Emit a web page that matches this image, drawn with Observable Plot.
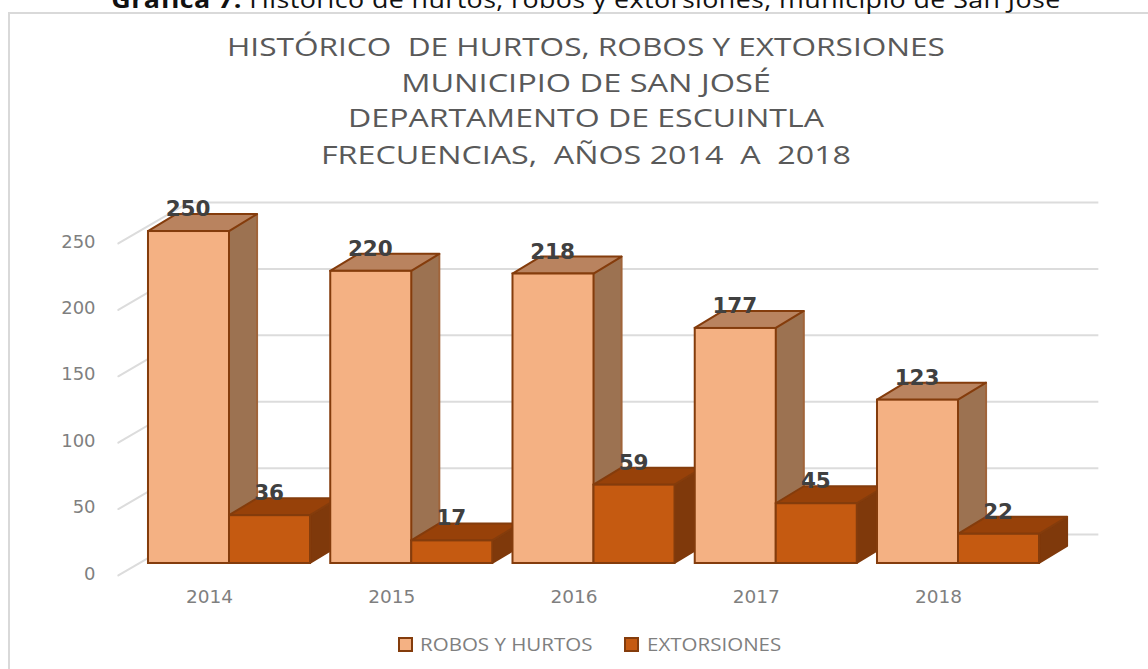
<!DOCTYPE html>
<html lang="es">
<head>
<meta charset="utf-8">
<script src="https://cdn.jsdelivr.net/npm/d3@7"></script>
<script src="https://cdn.jsdelivr.net/npm/@observablehq/plot@0.6"></script>
<style>
  html, body { margin: 0; padding: 0; background: #fff; overflow: hidden; }
  #page { position: relative; width: 1148px; height: 669px; overflow: hidden; }
  #frame { position: absolute; left: 8px; top: 12px; width: 1150px; height: 670px; border-left: 2px solid #d9d9d9; border-top: 2px solid #d9d9d9; box-sizing: border-box; }
  #header { position: relative; height: 190px; }
  #caption { position: absolute; left: 0; width: 1172px; top: -16px; text-align: center; font: 23px/30px "Open Sans", sans-serif; color: #111; white-space: pre; letter-spacing: .35px; transform: scaleX(1.166); transform-origin: 586px 0; }
  .tl { position: absolute; left: 0; width: 1172px; text-align: center; font: 26px/36px "Open Sans", sans-serif; color: #595959; white-space: pre; transform-origin: 586px 0; }
  #chart { position: relative; height: 435px; }
  #chart svg { background: transparent; display: block; }
  #legend { position: relative; height: 44px; font: 18px/20px "Open Sans", sans-serif; color: #7f7f7f; }
  #legend span { position: absolute; top: 9px; white-space: pre; transform: scaleX(1.14); transform-origin: 0 0; }
  #legend i { position: absolute; top: 12px; width: 11px; height: 11px; border: 2px solid #843c0c; }
</style>
</head>
<body>
<div id="page">
  <div id="frame"></div>
  <div id="header"></div>
  <div id="chart"></div>
  <div id="legend"></div>
</div>
<script>
const years = [2014, 2015, 2016, 2017, 2018];
const robosHurtos = [250, 220, 218, 177, 123];
const extorsiones = [36, 17, 59, 45, 22];
const yTicks = [0, 50, 100, 150, 200, 250];
const captionBold = "Gráfica 7.";
const captionRest = " Histórico de hurtos, robos y extorsiones, municipio de San José";
const titleLines = [
  "HISTÓRICO  DE HURTOS, ROBOS Y EXTORSIONES",
  "MUNICIPIO DE SAN JOSÉ",
  "DEPARTAMENTO DE ESCUINTLA",
  "FRECUENCIAS,  AÑOS 2014  A  2018"
];
const seriesNames = ["ROBOS Y HURTOS", "EXTORSIONES"];

const palette = [
  {front: "#f4b183", side: "#9c7251", top: "#b9835f", edge: "#843c0c", sideEdge: "#a0643a"},
  {front: "#c55a11", side: "#7f390b", top: "#974109", edge: "#843c0c", sideEdge: "#7f390b"}
];

// geometry of the pseudo-3D chart, expressed in scale units
const barW = 0.4445, depthX = 0.154, depthY = 12.8;
const wallY = 21.8, floorY = -9, wallX = -0.225, floorX = -0.61;
const gridEnd = 4.77;

const tickRows = yTicks.map(t => ({t}));

const marks = [];
// gridlines on the back wall, and the floor-to-wall diagonals
marks.push(Plot.ruleY(tickRows, {y: d => d.t + wallY, x1: wallX, x2: gridEnd, stroke: "#dcdcdc", strokeWidth: 2}));
yTicks.forEach(t => {
  marks.push(Plot.line([[floorX, t + floorY], [wallX, t + wallY]], {stroke: "#dcdcdc", strokeWidth: 2}));
});
marks.push(Plot.text(tickRows, {
  x: -0.735, y: d => d.t - 7.8, text: d => String(d.t), textAnchor: "end",
  fontFamily: "DejaVu Sans", fontSize: 18, fill: "#7f7f7f"
}));

// bars, painted left to right so that nearer faces cover farther ones
years.forEach((year, i) => {
  [robosHurtos[i], extorsiones[i]].forEach((v, s) => {
    const c = palette[s];
    const a = i - barW + s * barW, b = a + barW;
    marks.push(Plot.areaY(
      [{x: b, lo: 0, hi: v}, {x: b + depthX, lo: depthY, hi: v + depthY}],
      {x: "x", y1: "lo", y2: "hi", fill: c.side, stroke: c.sideEdge, strokeWidth: 2}
    ));
    marks.push(Plot.areaX(
      [{y: v, l: a, r: b}, {y: v + depthY, l: a + depthX, r: b + depthX}],
      {y: "y", x1: "l", x2: "r", fill: c.top, stroke: c.edge, strokeWidth: 2}
    ));
    marks.push(Plot.rect([{a, b, v}], {
      x1: "a", x2: "b", y1: 0, y2: "v", fill: c.front, stroke: c.edge, strokeWidth: 2
    }));
  });
});

// value labels
years.forEach((year, i) => {
  [robosHurtos[i], extorsiones[i]].forEach((v, s) => {
    marks.push(Plot.text([{x: i - barW / 2 + s * barW - 0.005, y: v + 16.8, v}], {
      x: "x", y: "y", text: d => String(d.v),
      fontFamily: "DejaVu Sans", fontWeight: "bold", fontSize: 21.5, fill: "#404040"
    }));
  });
});

// year labels
marks.push(Plot.text(years.map((year, i) => ({year, i})), {
  x: d => d.i - 0.11, y: -25.6, text: d => String(d.year),
  fontFamily: "DejaVu Sans", fontSize: 18.5, fill: "#7f7f7f"
}));

const chart = Plot.plot({
  width: 1148, height: 435,
  marginTop: 0, marginBottom: 0, marginLeft: 0, marginRight: 0,
  x: {type: "linear", domain: [-1.2565, 5.0425], axis: null},
  y: {type: "linear", domain: [-46.7, 280.9], axis: null},
  marks
});
document.getElementById("chart").appendChild(chart);

// heading text
const header = document.getElementById("header");
const cap = document.createElement("div");
cap.id = "caption";
const bold = document.createElement("b");
bold.textContent = captionBold;
cap.append(bold, captionRest);
header.appendChild(cap);
const tops = [28, 64, 99, 136];
const stretch = [1.215, 1.25, 1.232, 1.24];
titleLines.forEach((line, i) => {
  const d = document.createElement("div");
  d.className = "tl";
  d.style.top = tops[i] + "px";
  d.style.transform = `scaleX(${stretch[i]})`;
  d.textContent = line;
  header.appendChild(d);
});

// legend
const legend = document.getElementById("legend");
[[398, 420], [624, 647]].forEach(([sx, tx], s) => {
  const sw = document.createElement("i");
  sw.style.left = sx + "px";
  sw.style.background = palette[s].front;
  const t = document.createElement("span");
  t.style.left = tx + "px";
  t.textContent = seriesNames[s];
  legend.append(sw, t);
});
</script>
</body>
</html>
